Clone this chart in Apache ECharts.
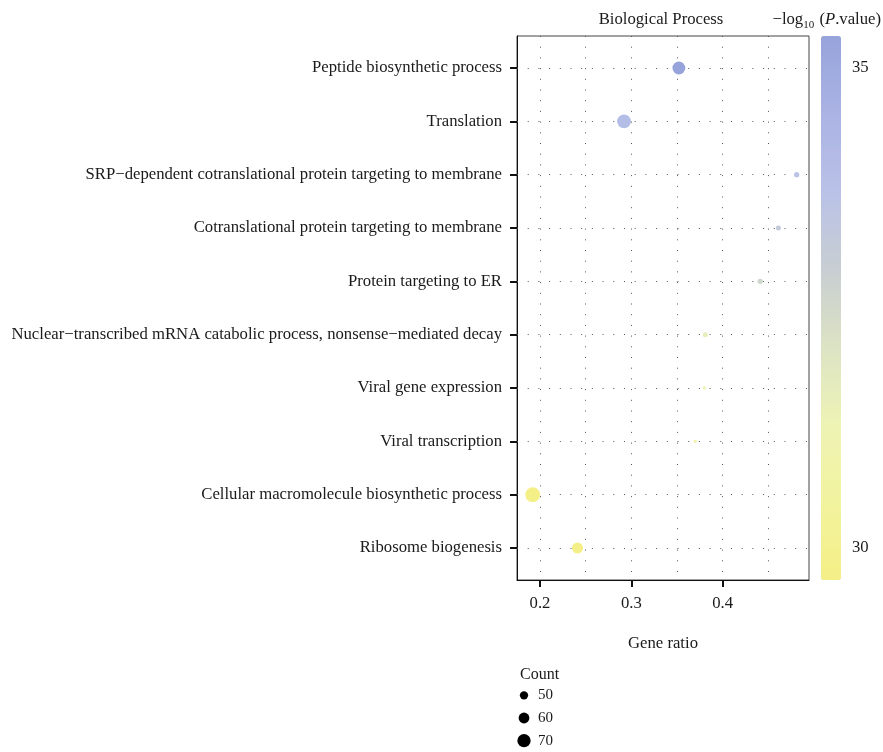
<!DOCTYPE html>
<html>
<head>
<meta charset="utf-8">
<script src="https://cdn.jsdelivr.net/npm/echarts@6/dist/echarts.min.js"></script>
<style>
html,body{margin:0;padding:0;background:#fff;}
#main{width:883px;height:752px;}
</style>
</head>
<body>
<div id="main"></div>
<script>
// ---- data ----
const categories = [
  'Peptide biosynthetic process',
  'Translation',
  'SRP\u2212dependent cotranslational protein targeting to membrane',
  'Cotranslational protein targeting to membrane',
  'Protein targeting to ER',
  'Nuclear\u2212transcribed mRNA catabolic process, nonsense\u2212mediated decay',
  'Viral gene expression',
  'Viral transcription',
  'Cellular macromolecule biosynthetic process',
  'Ribosome biogenesis'
];
const geneRatio = [0.352, 0.292, 0.481, 0.461, 0.441, 0.381, 0.380, 0.370, 0.192, 0.241];
const logP      = [35.33, 34.0, 33.6, 33.2, 32.6, 31.6, 31.1, 30.9, 29.66, 29.75];
const counts    = [68, 72, 38, 37, 38, 37, 30, 30, 76, 61];
const xTicks = [0.2, 0.3, 0.4];
const xGrid  = [0.2, 0.25, 0.3, 0.35, 0.4, 0.45];
const colorTicks = [30, 35];
const countLegend = [50, 60, 70];

const FONT = "'Liberation Serif','DejaVu Serif',serif";
const TXT = '#1a1a1a';
const FS = 16.7;
function sizeOf(c){ return 8.3 + 0.25 * (c - 50); }
const catIdx = categories.map((_, i) => i);
const points = categories.map((_, i) => [geneRatio[i], i, logP[i], counts[i]]);

const chart = echarts.init(document.getElementById('main'));
chart.setOption({
  animation: false,
  backgroundColor: '#fff',
  textStyle: { fontFamily: FONT, color: TXT },
  title: [
    { text: 'Biological Process', left: 661, top: 11, textAlign: 'center', padding: 0,
      textStyle: { fontFamily: FONT, fontSize: FS, fontWeight: 'normal', color: TXT } },
    { text: '{t|\u2212log}{s|10}{t| (}{i|P}{t|.value)}', right: 2, top: 10, padding: 0,
      textStyle: { fontWeight: 'normal', rich: {
        t: { fontFamily: FONT, fontSize: FS, fontWeight: 'normal', color: TXT, lineHeight: 20 },
        s: { fontFamily: FONT, fontSize: 11, fontWeight: 'normal', color: TXT, lineHeight: 20, padding: [10, 1, 0, 0] },
        i: { fontFamily: FONT, fontSize: FS, fontWeight: 'normal', color: TXT, fontStyle: 'italic', lineHeight: 20 }
      } } },
    { text: 'Count', left: 520, top: 667, padding: 0,
      textStyle: { fontFamily: FONT, fontSize: 16, fontWeight: 'normal', color: TXT } }
  ],
  grid: [
    { left: 517, right: 74, top: 36, bottom: 172, show: true, borderColor: '#444', borderWidth: 1 },
    { left: 821, width: 20, top: 36, height: 544 },
    { left: 514, width: 20, top: 684, height: 71 }
  ],
  visualMap: {
    type: 'continuous', seriesIndex: 1, dimension: 2,
    min: 29.66, max: 35.33, calculable: false, text: null,
    left: 821, top: 36, itemWidth: 20, itemHeight: 544, padding: 0,
    inRange: { color: ['#F4EF86', '#F2F39E', '#EEF3B5', '#DCE3C4', '#C8CED2', '#BAC2E8', '#AAB3E3', '#97A3DB'] },
    textStyle: { color: 'transparent' }
  },
  xAxis: [
    { type: 'value', gridIndex: 0, min: 0.1748, max: 0.4945,
      name: 'Gene ratio', nameLocation: 'middle', nameGap: 55,
      nameTextStyle: { fontFamily: FONT, fontSize: FS, color: TXT },
      axisLine: { show: true, onZero: false, lineStyle: { color: '#111', width: 1 } },
      axisTick: { show: true, customValues: xTicks, length: 7, lineStyle: { color: '#111', width: 2 } },
      axisLabel: { customValues: xTicks, formatter: v => v.toFixed(1), margin: 15,
        fontFamily: FONT, fontSize: FS, color: TXT },
      splitLine: { show: false } },
    { type: 'value', gridIndex: 1, min: 0, max: 1, show: false },
    { type: 'value', gridIndex: 2, min: 0, max: 1, show: false }
  ],
  yAxis: [
    { type: 'value', gridIndex: 0, min: -0.6, max: 9.6, inverse: true,
      axisLine: { show: true, onZero: false, lineStyle: { color: '#111', width: 1 } },
      axisTick: { show: true, customValues: catIdx, length: 7, lineStyle: { color: '#111', width: 2 } },
      axisLabel: { customValues: catIdx, formatter: v => categories[Math.round(v)], margin: 15,
        fontFamily: FONT, fontSize: FS, color: TXT },
      splitLine: { show: false } },
    { type: 'value', gridIndex: 1, min: 29.66, max: 35.33, position: 'right',
      axisLine: { show: false },
      axisTick: { show: true, customValues: colorTicks, length: 7, lineStyle: { color: '#111', width: 2 } },
      axisLabel: { customValues: colorTicks, margin: 11, fontFamily: FONT, fontSize: FS, color: TXT },
      splitLine: { show: false } },
    { type: 'category', gridIndex: 2, data: countLegend.map(String), inverse: true, position: 'right',
      axisLine: { show: false }, axisTick: { show: false },
      axisLabel: { margin: 4, fontFamily: FONT, fontSize: 15, color: TXT } }
  ],
  series: [
    { type: 'scatter', xAxisIndex: 0, yAxisIndex: 0, data: [], silent: true, z: 1,
      markLine: { silent: true, z: 1, symbol: 'none', label: { show: false },
        lineStyle: { color: '#555', width: 1, type: [1, 9.7] },
        data: xGrid.map(v => ({ xAxis: v })).concat(catIdx.map(v => ({ yAxis: v }))) } },
    { type: 'scatter', xAxisIndex: 0, yAxisIndex: 0, z: 3,
      data: points, symbolSize: d => sizeOf(d[3]),
      itemStyle: { opacity: 1 } },
    { type: 'scatter', xAxisIndex: 2, yAxisIndex: 2, z: 3,
      data: countLegend.map(c => [0.5, String(c), c]),
      symbolSize: d => sizeOf(d[2]), itemStyle: { color: '#000', opacity: 1 } }
  ]
});
</script>
</body>
</html>
